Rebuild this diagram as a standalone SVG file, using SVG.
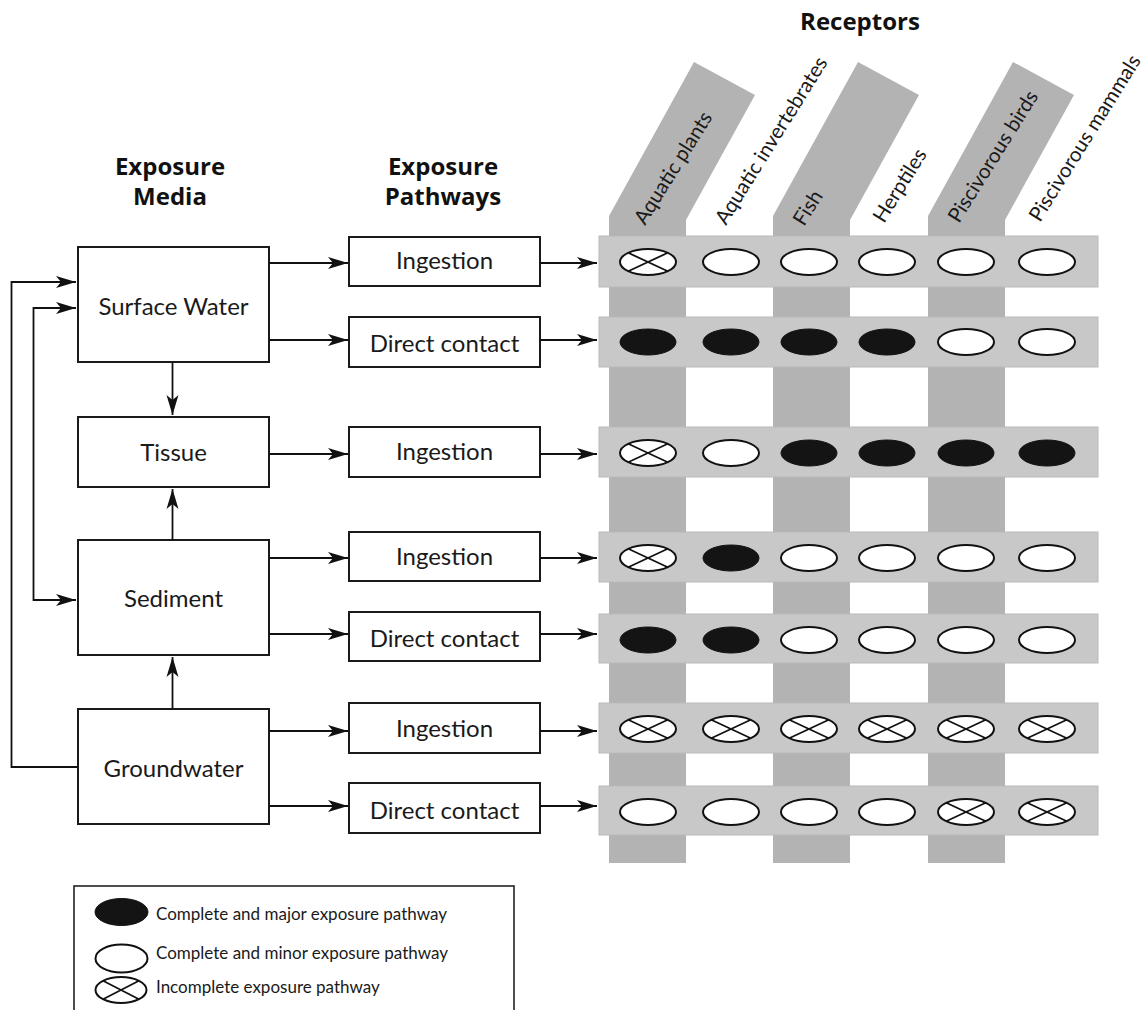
<svg xmlns="http://www.w3.org/2000/svg" width="1143" height="1010" viewBox="0 0 1143 1010">
<style>
.box{fill:#fff;stroke:#1a1a1a;stroke-width:2}
.t{font-family:Lato,"Open Sans",sans-serif;font-size:24px;fill:#1a1a1a;text-anchor:middle}
.h{font-family:"Open Sans",Lato,sans-serif;font-size:24px;font-weight:bold;fill:#111;text-anchor:middle}
.lbl{font-family:Lato,"Open Sans",sans-serif;font-size:20.5px;fill:#1a1a1a}
.lg{font-family:Lato,"Open Sans",sans-serif;font-size:17px;fill:#1a1a1a}
.strip{fill:#b3b3b3}
.band{fill:#c8c8c8;stroke:#bababa;stroke-width:1}
.con{fill:none;stroke:#111;stroke-width:1.8}
.w{fill:#fff;stroke:#111;stroke-width:2}
.b{fill:#141414;stroke:#111;stroke-width:1}
.x{stroke:#111;stroke-width:1.8;fill:none}
</style>
<defs>
<marker id="ah" markerWidth="21" markerHeight="13" refX="20" refY="6.5" orient="auto" markerUnits="userSpaceOnUse"><path d="M0,0.5 L20,6.5 L0,12.5 L5,6.5 Z" fill="#111"/></marker>
<marker id="ahs" markerWidth="21" markerHeight="13" refX="20" refY="6.5" orient="auto-start-reverse" markerUnits="userSpaceOnUse"><path d="M0,0.5 L20,6.5 L0,12.5 L5,6.5 Z" fill="#111"/></marker>
<g id="ew"><ellipse cx="0" cy="0" rx="28" ry="13" class="w"/></g>
<g id="eb"><ellipse cx="0" cy="0" rx="28" ry="13" class="b"/></g>
<g id="ex"><ellipse cx="0" cy="0" rx="28" ry="13" class="w"/><path d="M-19.8,-9.2 L19.8,9.2 M-19.8,9.2 L19.8,-9.2" class="x"/></g>
</defs>

<!-- headings -->
<g id="headings">
<text class="h" x="860" y="30">Receptors</text>
<text class="h" x="170" y="175">Exposure</text>
<text class="h" x="170" y="205">Media</text>
<text class="h" x="443" y="175">Exposure</text>
<text class="h" x="443" y="205">Pathways</text>
</g>

<!-- receptor strips -->
<g id="strips">
<polygon class="strip" points="609,863 609,216 694,62 755,95 686,220 686,863"/>
<polygon class="strip" points="773,863 773,216 858,62 919,95 850,220 850,863"/>
<polygon class="strip" points="928,863 928,216 1013,62 1074,95 1005,220 1005,863"/>
</g>

<!-- receptor labels -->
<g id="receptor-labels">
<text class="lbl" transform="translate(645,226) rotate(-58)">Aquatic plants</text>
<text class="lbl" transform="translate(726,226) rotate(-58)">Aquatic invertebrates</text>
<text class="lbl" transform="translate(804,227) rotate(-58)">Fish</text>
<text class="lbl" transform="translate(884,224) rotate(-58)">Herptiles</text>
<text class="lbl" transform="translate(959,224) rotate(-58)">Piscivorous birds</text>
<text class="lbl" transform="translate(1040,223) rotate(-58)">Piscivorous mammals</text>
</g>

<!-- bands -->
<g id="bands">
<rect class="band" x="599" y="236" width="499" height="51"/>
<rect class="band" x="599" y="317" width="499" height="50"/>
<rect class="band" x="599" y="427" width="499" height="50"/>
<rect class="band" x="599" y="532" width="499" height="50"/>
<rect class="band" x="599" y="614" width="499" height="49"/>
<rect class="band" x="599" y="703" width="499" height="50"/>
<rect class="band" x="599" y="786" width="499" height="49"/>
</g>

<!-- ellipses -->
<g id="matrix">
<use href="#ex" x="648" y="262"/><use href="#ew" x="731" y="262"/><use href="#ew" x="809" y="262"/><use href="#ew" x="887" y="262"/><use href="#ew" x="966" y="262"/><use href="#ew" x="1047" y="262"/>
<use href="#eb" x="648" y="342"/><use href="#eb" x="731" y="342"/><use href="#eb" x="809" y="342"/><use href="#eb" x="887" y="342"/><use href="#ew" x="966" y="342"/><use href="#ew" x="1047" y="342"/>
<use href="#ex" x="648" y="453"/><use href="#ew" x="731" y="453"/><use href="#eb" x="809" y="453"/><use href="#eb" x="887" y="453"/><use href="#eb" x="966" y="453"/><use href="#eb" x="1047" y="453"/>
<use href="#ex" x="648" y="558"/><use href="#eb" x="731" y="558"/><use href="#ew" x="809" y="558"/><use href="#ew" x="887" y="558"/><use href="#ew" x="966" y="558"/><use href="#ew" x="1047" y="558"/>
<use href="#eb" x="648" y="640"/><use href="#eb" x="731" y="640"/><use href="#ew" x="809" y="640"/><use href="#ew" x="887" y="640"/><use href="#ew" x="966" y="640"/><use href="#ew" x="1047" y="640"/>
<use href="#ex" x="648" y="729"/><use href="#ex" x="731" y="729"/><use href="#ex" x="809" y="729"/><use href="#ex" x="887" y="729"/><use href="#ex" x="966" y="729"/><use href="#ex" x="1047" y="729"/>
<use href="#ew" x="648" y="812"/><use href="#ew" x="731" y="812"/><use href="#ew" x="809" y="812"/><use href="#ew" x="887" y="812"/><use href="#ex" x="966" y="812"/><use href="#ex" x="1047" y="812"/>
</g>

<!-- media nodes -->
<g id="surface-water"><rect class="box" x="78" y="247" width="191" height="115"/><text class="t" x="173.5" y="315">Surface Water</text></g>
<g id="tissue"><rect class="box" x="78" y="417" width="191" height="70"/><text class="t" x="173.5" y="461">Tissue</text></g>
<g id="sediment"><rect class="box" x="78" y="540" width="191" height="115"/><text class="t" x="173.5" y="607">Sediment</text></g>
<g id="groundwater"><rect class="box" x="78" y="709" width="191" height="115"/><text class="t" x="173.5" y="777">Groundwater</text></g>

<!-- pathway nodes -->
<g id="sw-ingestion"><rect class="box" x="349" y="237" width="191" height="49"/><text class="t" x="444.5" y="269">Ingestion</text></g>
<g id="sw-direct"><rect class="box" x="349" y="317" width="191" height="50"/><text class="t" x="444.5" y="352">Direct contact</text></g>
<g id="tissue-ingestion"><rect class="box" x="349" y="427" width="191" height="50"/><text class="t" x="444.5" y="460">Ingestion</text></g>
<g id="sed-ingestion"><rect class="box" x="349" y="532" width="191" height="49"/><text class="t" x="444.5" y="565">Ingestion</text></g>
<g id="sed-direct"><rect class="box" x="349" y="612" width="191" height="49"/><text class="t" x="444.5" y="647">Direct contact</text></g>
<g id="gw-ingestion"><rect class="box" x="349" y="703" width="191" height="50"/><text class="t" x="444.5" y="737">Ingestion</text></g>
<g id="gw-direct"><rect class="box" x="349" y="783" width="191" height="50"/><text class="t" x="444.5" y="819">Direct contact</text></g>

<!-- connectors -->
<g id="connectors" class="con">
<path d="M269,263 H348" marker-end="url(#ah)"/>
<path d="M269,340 H348" marker-end="url(#ah)"/>
<path d="M269,454 H348" marker-end="url(#ah)"/>
<path d="M269,558 H348" marker-end="url(#ah)"/>
<path d="M269,634 H348" marker-end="url(#ah)"/>
<path d="M269,731 H348" marker-end="url(#ah)"/>
<path d="M269,806 H348" marker-end="url(#ah)"/>
<path d="M540,263 H597" marker-end="url(#ah)"/>
<path d="M540,340 H597" marker-end="url(#ah)"/>
<path d="M540,454 H597" marker-end="url(#ah)"/>
<path d="M540,558 H597" marker-end="url(#ah)"/>
<path d="M540,634 H597" marker-end="url(#ah)"/>
<path d="M540,731 H597" marker-end="url(#ah)"/>
<path d="M540,806 H597" marker-end="url(#ah)"/>
<path d="M172.5,362 V415" marker-end="url(#ah)"/>
<path d="M172.5,540 V489" marker-end="url(#ah)"/>
<path d="M172.5,709 V657" marker-end="url(#ah)"/>
<path d="M78,767 H11.5 V282 H76" marker-end="url(#ah)"/>
<path d="M76,308 H33.5 V600 H76" marker-start="url(#ahs)" marker-end="url(#ah)"/>
</g>

<!-- legend -->
<g id="legend">
<rect x="74" y="886" width="440" height="140" fill="#fff" stroke="#222" stroke-width="1.6"/>
<ellipse cx="121.5" cy="912" rx="26.5" ry="13.5" class="b"/>
<ellipse cx="121.5" cy="958.5" rx="26" ry="14" class="w"/>
<ellipse cx="121" cy="990" rx="25.5" ry="13" class="w"/>
<path d="M103,980.8 L139,999.2 M103,999.2 L139,980.8" class="x"/>
<text class="lg" x="156" y="920">Complete and major exposure pathway</text>
<text class="lg" x="156" y="959">Complete and minor exposure pathway</text>
<text class="lg" x="156" y="993">Incomplete exposure pathway</text>
</g>
</svg>
